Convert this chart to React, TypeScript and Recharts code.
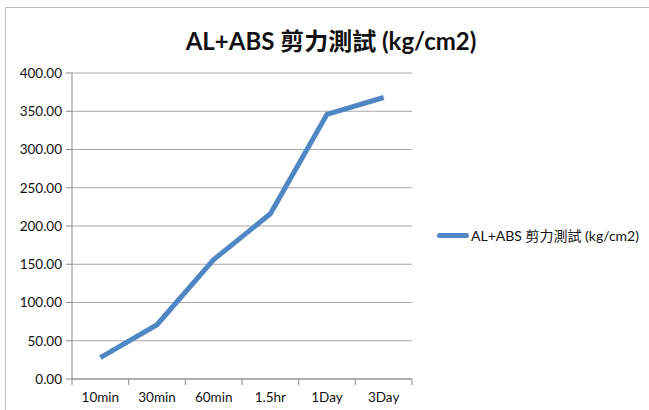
import React from "react";
import {
  LineChart, Line, XAxis, YAxis, CartesianGrid,
} from "recharts";

const categories = ["10min", "30min", "60min", "1.5hr", "1Day", "3Day"];
const shear = [28, 71, 156, 216, 346, 368];
const yTicks = [0, 50, 100, 150, 200, 250, 300, 350, 400];
const seriesName = "AL+ABS 剪力測試 (kg/cm2)";

const data = categories.map((c, i) => ({ name: c, value: shear[i] }));

const FONT = "Lato, 'Noto Sans CJK TC', sans-serif";
const BLUE = "#4F86C4";

// x-axis tick: label at band centre, tick mark on the band boundary (Excel style)
function CatTick(props: any) {
  const { x, y, payload, index } = props;
  const off = payload?.offset ?? 28.33;
  const axisY = y - 10;
  return (
    <g>
      <line x1={x - off} y1={axisY} x2={x - off} y2={axisY + 6} stroke="#8c8c8c" />
      {index === categories.length - 1 && (
        <line x1={x + off} y1={axisY} x2={x + off} y2={axisY + 6} stroke="#8c8c8c" />
      )}
      <text x={x} y={y + 13} textAnchor="middle" fontSize={13.5} fill="#111" fontFamily={FONT}>
        {payload.value}
      </text>
    </g>
  );
}

export default function App() {
  return (
    <div style={{ position: "absolute", left: 0, top: 0, width: 649, height: 410, background: "#fff", overflow: "hidden", fontFamily: FONT }}>
      <div style={{ position: "absolute", left: 5, top: 7, width: 700, height: 450, borderLeft: "1px solid #bdbdbd", borderTop: "1px solid #bdbdbd" }} />
      <div style={{ position: "absolute", left: 0, width: 662, top: 22, textAlign: "center", fontSize: 24, fontWeight: 700, color: "#111" }}>
        {seriesName}
      </div>
      <div style={{ position: "absolute", left: 0, top: 0 }}>
        <LineChart width={649} height={410} data={data} margin={{ top: 73, right: 237, bottom: 0, left: 0 }}>
          <CartesianGrid horizontal vertical={false} stroke="#a8a8a8" />
          <XAxis
            dataKey="name"
            scale="band"
            axisLine={{ stroke: "#8c8c8c" }}
            tickLine={false}
            tickSize={6}
            tickMargin={4}
            height={31}
            interval={0}
            tick={<CatTick />}
          />
          <YAxis
            domain={[0, 400]}
            ticks={yTicks}
            interval={0}
            width={72}
            axisLine={{ stroke: "#8c8c8c" }}
            tickLine={{ stroke: "#8c8c8c" }}
            tickSize={6}
            tickMargin={4}
            tickFormatter={(v: number) => v.toFixed(2)}
            tick={{ fontSize: 13.5, fill: "#111", fontFamily: FONT }}
          />
          <Line
            dataKey="value"
            stroke={BLUE}
            strokeWidth={5}
            dot={false}
            isAnimationActive={false}
          />
        </LineChart>
      </div>
      <div style={{ position: "absolute", left: 437, top: 225, display: "flex", alignItems: "center", fontSize: 14, color: "#111" }}>
        <div style={{ width: 32, height: 5, borderRadius: 3, background: BLUE, marginRight: 2 }} />
        <span>{seriesName}</span>
      </div>
    </div>
  );
}
